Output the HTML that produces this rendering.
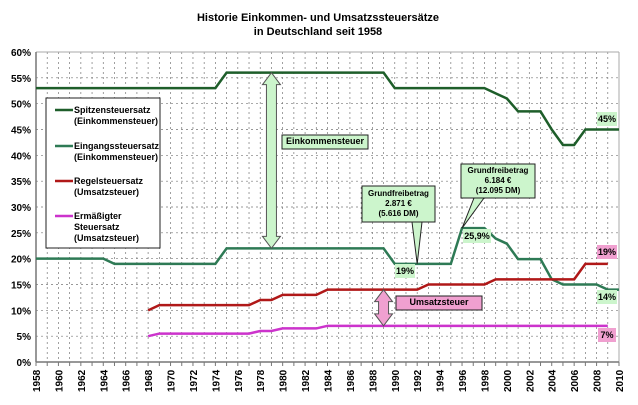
<!DOCTYPE html>
<html><head><meta charset="utf-8"><style>
body{margin:0;background:#fff;font-family:"Liberation Sans",sans-serif}
svg text{font-family:"Liberation Sans",sans-serif;font-weight:bold}
</style></head><body>
<svg id="c" width="638" height="400" xmlns="http://www.w3.org/2000/svg">
<text x="318" y="21" font-size="11" text-anchor="middle">Historie Einkommen- und Umsatzssteuersätze</text>
<text x="318" y="35" font-size="11" text-anchor="middle">in Deutschland seit 1958</text>
<g id="grid"></g><g id="axes"></g><g id="series"></g><g id="ann"></g>
</svg>
<script>
const spitzenYears=[1958,1974,1975,1989,1990,1998,1999,2000,2001,2003,2004,2005,2006,2007,2010];
const spitzenVals=[53,53,56,56,53,53,52,51,48.5,48.5,45,42,42,45,45];
const eingangYears=[1958,1964,1965,1974,1975,1989,1990,1995,1996,1998,1999,2000,2001,2003,2004,2005,2008,2009,2010];
const eingangVals=[20,20,19,19,22,22,19,19,25.9,25.9,23.9,22.9,19.9,19.9,16,15,15,14,14];
const regelYears=[1968,1969,1977,1978,1979,1980,1983,1984,1992,1993,1998,1999,2006,2007,2009];
const regelVals=[10,11,11,12,12,13,13,14,14,15,15,16,16,19,19];
const ermYears=[1968,1969,1977,1978,1979,1980,1983,1984,2009];
const ermVals=[5,5.5,5.5,6,6,6.5,6.5,7,7];
const yTicks=[0,5,10,15,20,25,30,35,40,45,50,55,60];
const xTicks=[1958,1960,1962,1964,1966,1968,1970,1972,1974,1976,1978,1980,1982,1984,1986,1988,1990,1992,1994,1996,1998,2000,2002,2004,2006,2008,2010];
const X=y=>36+(y-1958)*(583/52), Y=v=>362-v*(310/60);
const NS="http://www.w3.org/2000/svg";
function mk(p,t,a){const e=document.createElementNS(NS,t);for(const k in a)e.setAttribute(k,a[k]);p.appendChild(e);return e;}
const g=document.getElementById('grid'),ax=document.getElementById('axes'),s=document.getElementById('series'),an=document.getElementById('ann');
for(let yr=1959;yr<=2010;yr++){const l=mk(g,'line',{x1:X(yr),x2:X(yr),y1:Y(60),y2:Y(0),stroke:'#777','stroke-dasharray':'2,3','stroke-width':0.7});

}
yTicks.forEach(v=>{if(v>0){const l=mk(g,'line',{x1:36,x2:X(2010),y1:Y(v),y2:Y(v),stroke:'#777','stroke-dasharray':'2,3','stroke-width':0.7});

}
const t=mk(ax,'text',{x:31,y:Y(v)+4,'font-size':10,'text-anchor':'end'});t.textContent=v+'%';

});
mk(ax,'line',{x1:X(2010),x2:X(2010),y1:Y(60),y2:Y(0),stroke:'#aaa'});
mk(ax,'line',{x1:36,x2:X(2010),y1:Y(60),y2:Y(60),stroke:'#aaa'});
mk(ax,'line',{x1:36,x2:36,y1:Y(60),y2:Y(0),stroke:'#777','stroke-width':1.5});
mk(ax,'line',{x1:36,x2:X(2010),y1:Y(0),y2:Y(0),stroke:'#777','stroke-width':1.5});
for(let yr=1958;yr<=2010;yr++)mk(ax,'line',{x1:X(yr),x2:X(yr),y1:Y(0),y2:Y(0)+4,stroke:'#777'});
xTicks.forEach(yr=>{const t=mk(ax,'text',{transform:`translate(${X(yr)+4},${Y(0)+30}) rotate(-90)`,'font-size':10});t.textContent=yr;

});
function line(ys,vs,col,name){const p=mk(s,'polyline',{points:ys.map((y,i)=>X(y)+','+Y(vs[i])).join(' '),fill:'none',stroke:col,'stroke-width':2.5});

}
line(spitzenYears,spitzenVals,'#1e5e2a','spitzensteuersatz-line');
line(eingangYears,eingangVals,'#2e7a55','eingangssteuersatz-line');
line(regelYears,regelVals,'#b01818','regelsteuersatz-line');
line(ermYears,ermVals,'#cc33cc','ermaessigter-steuersatz-line');
function darrow(x,y1,y2,fill){const w=5,hw=9,h=12;mk(an,'path',{d:`M${x},${y1} L${x+hw},${y1+h} L${x+w},${y1+h} L${x+w},${y2-h} L${x+hw},${y2-h} L${x},${y2} L${x-hw},${y2-h} L${x-w},${y2-h} L${x-w},${y1+h} L${x-hw},${y1+h} Z`,fill,stroke:'#555'});}
darrow(X(1979),Y(56),Y(22),'#ccf5cc');
darrow(X(1989),Y(14),Y(7),'#f0a0d0');
function box(x,y,w,h,fill,lines,fs,name){const r=mk(an,'rect',{x,y,width:w,height:h,fill,stroke:'#222','stroke-width':1});


const lh=lines.length>1?10:12;const top=y+(h-lh*lines.length)/2+fs;
lines.forEach((l,i)=>{const t=mk(an,'text',{x:x+w/2,y:top+i*lh-1,'font-size':fs,'text-anchor':'middle'});t.textContent=l;});}
box(282,135,86,14,'#ccf5cc',['Einkommensteuer'],9,'einkommensteuer-label');
box(396,296,86,14,'#f0a0d0',['Umsatzsteuer'],9,'umsatzsteuer-label');
mk(an,'path',{d:`M412,222 L${X(1992)},${Y(19)} L422,222`,fill:'#ccf5cc',stroke:'#222'});
box(362,186,73,36,'#ccf5cc',['Grundfreibetrag','2.871 €','(5.616 DM)'],8,'grundfreibetrag-1992-callout');
mk(an,'path',{d:`M474,198 L${X(1996)},${Y(25.9)} L484,198`,fill:'#ccf5cc',stroke:'#222'});
box(461,164,74,34,'#ccf5cc',['Grundfreibetrag','6.184 €','(12.095 DM)'],8,'grundfreibetrag-1996-callout');
function tag(x,y,w,fill,txt,name){const r=mk(an,'rect',{x,y,width:w,height:14,fill});


const t=mk(an,'text',{x:x+w/2,y:y+10,'font-size':9,'text-anchor':'middle'});t.textContent=txt;}
tag(597,112,20,'#ccf5cc','45%','label-45');
tag(395,264,20,'#ccf5cc','19%','label-19');
tag(463,229,28,'#ccf5cc','25,9%','label-25-9');
tag(597,245,20,'#f0a0d0','19%','label-19-regel');
tag(597,290,20,'#ccf5cc','14%','label-14');
tag(598,328,18,'#f0a0d0','7%','label-7');
const lg=mk(an,'rect',{x:46,y:98,width:114,height:150,fill:'#fff',stroke:'#222'});


[['#1e5e2a','Spitzensteuersatz','(Einkommensteuer)',110],['#2e7a55','Eingangssteuersatz','(Einkommensteuer)',146],['#b01818','Regelsteuersatz','(Umsatzsteuer)',181],['#cc33cc','Ermäßigter','Steuersatz',216]].forEach((e,i)=>{
mk(an,'line',{x1:55,x2:73,y1:e[3],y2:e[3],stroke:e[0],'stroke-width':2.5});
const t=mk(an,'text',{x:74,y:e[3]+3,'font-size':9});t.textContent=e[1];


const t2=mk(an,'text',{x:74,y:e[3]+14,'font-size':9});t2.textContent=e[2];
if(i==3){const t3=mk(an,'text',{x:74,y:e[3]+25,'font-size':9});t3.textContent='(Umsatzsteuer)';}
});
</script>
</body></html>
